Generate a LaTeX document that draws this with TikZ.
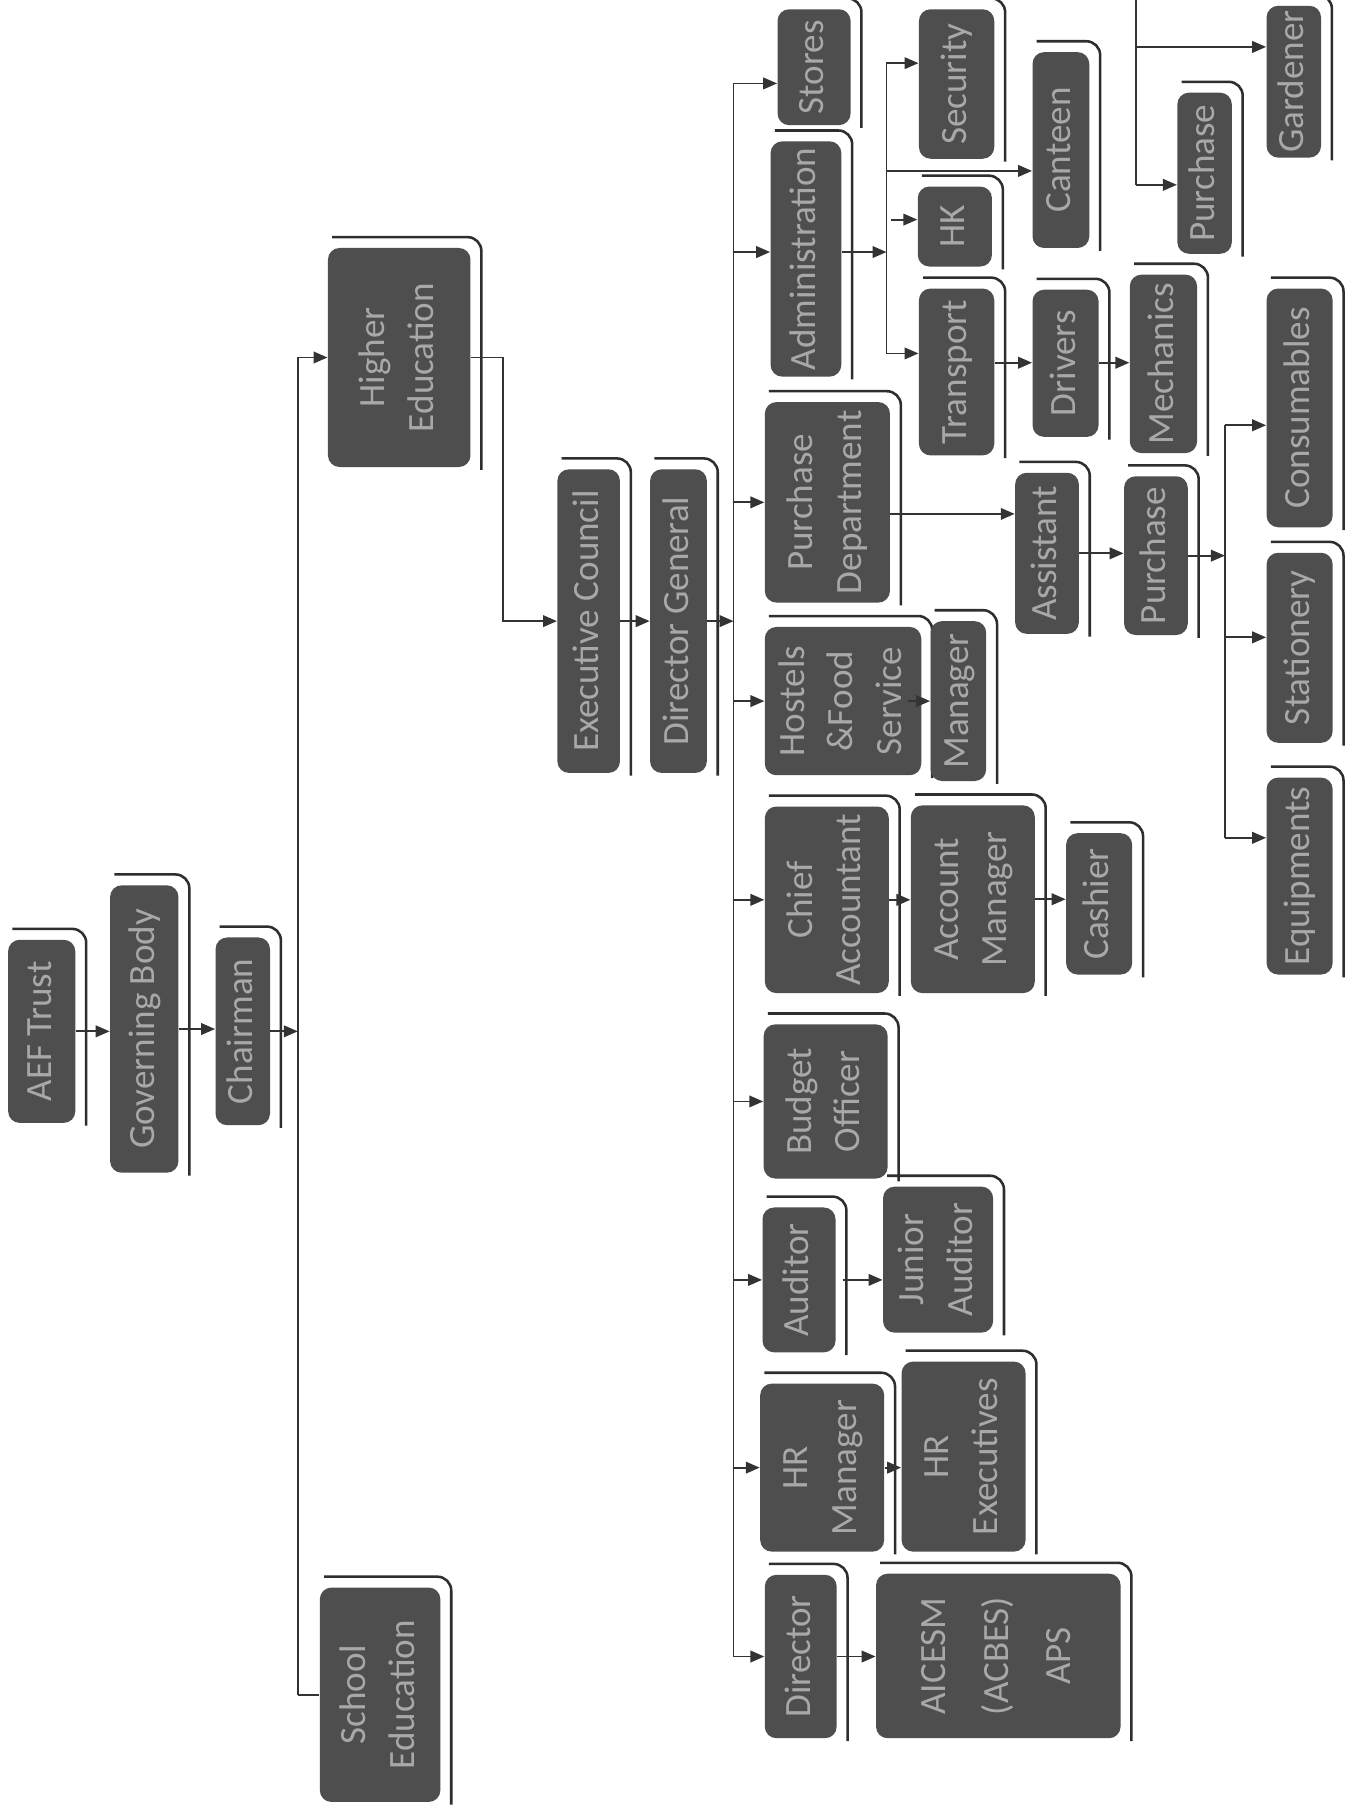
\documentclass[tikz,border=0pt]{standalone}
\usepackage{fontspec}
\setmainfont{Carlito}
\usetikzlibrary{arrows.meta}
\definecolor{boxfill}{HTML}{4E4E4E}
\definecolor{boxtext}{HTML}{A8A8A8}
\definecolor{linecol}{HTML}{333333}
\definecolor{framecol}{HTML}{2E2E2E}
\tikzset{
  orgnode/.style={fill=boxfill, rounded corners=5pt, inner sep=0pt, text=boxtext,
    font=\fontsize{16}{21}\selectfont},
  orgframe/.style={draw=framecol, line width=1.1pt, rounded corners=6pt},
  arr/.style={draw=linecol, line width=0.8pt, -{Triangle[length=6pt,width=5pt]}},
  ln/.style={draw=linecol, line width=0.8pt}
}
\newcommand\orgbox[6]{%
  \pgfmathsetmacro\obw{(#4-#2)*0.5}%
  \pgfmathsetmacro\obh{(#5-#3)*0.5}%
  \node[orgnode, minimum width=\obw pt, minimum height=\obh pt] (#1) at ({(#2+#4)/2},{(#3+#5)/2})
    {\rotatebox{90}{\begin{tabular}{@{}c@{}}#6\end{tabular}}};%
  \draw[orgframe] ([shift={(2pt,4.5pt)}]#1.north west) -| ([shift={(4.5pt,-1pt)}]#1.south east);%
}
\begin{document}
\begin{tikzpicture}[x=0.5pt,y=-0.5pt]
\fill[white] (0,0) rectangle (1172,1568);
\useasboundingbox (0,0) rectangle (1172,1568);

% boxes
\orgbox{aef}{7}{811}{65}{969}{AEF Trust}
\orgbox{gov}{95}{764}{154}{1012}{Governing Body}
\orgbox{chair}{186}{809}{233}{971}{Chairman}
\orgbox{higher}{283}{214}{406}{403}{Higher\\Education}
\orgbox{school}{276}{1370}{380}{1555}{School\\Education}
\orgbox{exec}{481}{405}{535}{667}{Executive Council}
\orgbox{dg}{561}{405}{610}{667}{Director General}
\orgbox{stores}{671}{8}{734}{108}{Stores}
\orgbox{admin}{665}{122}{726}{325}{Administration}
\orgbox{security}{793}{8}{858}{137}{Security}
\orgbox{hk}{792}{161}{856}{230}{HK}
\orgbox{canteen}{891}{45}{940}{214}{Canteen}
\orgbox{transport}{793}{249}{858}{393}{Transport}
\orgbox{drivers}{891}{250}{948}{377}{Drivers}
\orgbox{mech}{975}{237}{1033}{391}{Mechanics}
\orgbox{purchA}{1016}{80}{1063}{219}{Purchase}
\orgbox{gardener}{1093}{5}{1140}{136}{Gardener}
\orgbox{pdept}{660}{347}{768}{520}{Purchase\\Department}
\orgbox{asst}{876}{408}{931}{547}{Assistant}
\orgbox{purchB}{970}{411}{1025}{548}{Purchase}
\orgbox{cons}{1093}{249}{1150}{455}{Consumables}
\orgbox{stat}{1093}{477}{1150}{641}{Stationery}
\orgbox{equip}{1093}{671}{1150}{841}{Equipments}
\orgbox{hostels}{660}{541}{795}{669}{Hostels\\\&Food\\Service}
\orgbox{mgr}{803}{536}{851}{674}{Manager}
\orgbox{chief}{660}{696}{767}{857}{Chief\\Accountant}
\orgbox{accmgr}{786}{695}{893}{857}{Account\\Manager}
\orgbox{cashier}{920}{719}{977}{841}{Cashier}
\orgbox{budget}{659}{884}{766}{1017}{Budget\\Officer}
\orgbox{auditor}{658}{1042}{721}{1167}{Auditor}
\orgbox{jaud}{762}{1024}{857}{1150}{Junior\\Auditor}
\orgbox{hrm}{656}{1194}{763}{1339}{HR\\Manager}
\orgbox{hre}{778}{1175}{885}{1339}{HR\\Executives}
\orgbox{director}{660}{1359}{722}{1500}{Director}
\orgbox{aicesm}{756}{1358}{967}{1500}{AICESM\\[6pt](ACBES)\\[6pt]APS}

% bus coordinates
\coordinate (b1) at (257,0);
\coordinate (hx) at (434,0);
\coordinate (b2) at (633,0);
\coordinate (b3) at (765,0);
\coordinate (b4) at (1057,0);
\coordinate (b5top) at (980,0);

% top chain
\draw[arr] (aef.east) -- (aef.east -| gov.west);
\draw[arr] (gov.east) -- (gov.east -| chair.west);
\draw[arr] (chair.east) -- (chair.east -| b1);
\draw[ln] (b1 |- higher.west) -- (b1 |- school.west);
\draw[arr] (b1 |- higher.west) -- (higher.west);
\draw[ln] (b1 |- school.west) -- (school.west);
\draw[arr] (higher.east) -- (higher.east -| hx) |- (exec.west);
\draw[arr] (exec.east) -- (exec.east -| dg.west);
\draw[arr] (dg.east) -- (dg.east -| b2);

% main bus
\coordinate (stin) at ([yshift=-7pt]stores.west);
\coordinate (adin) at ([yshift=3pt]admin.west);
\draw[ln] (b2 |- stin) -- (b2 |- director.west);
\draw[arr] (b2 |- stin) -- (stin);
\draw[arr] (b2 |- adin) -- (adin);
\draw[arr] (b2 |- pdept.west) -- (pdept.west);
\draw[arr] (b2 |- hostels.west) -- (hostels.west);
\draw[arr] (b2 |- chief.west) -- (chief.west);
\draw[arr] (b2 |- budget.west) -- (budget.west);
\draw[arr] (b2 |- auditor.west) -- (auditor.west);
\draw[arr] (b2 |- hrm.west) -- (hrm.west);
\draw[arr] (b2 |- director.west) -- (director.west);

% administration branch
\coordinate (adout) at ([yshift=3pt]admin.east);
\draw[arr] (adout) -- (adout -| b3);
\coordinate (secin) at ([yshift=9pt]security.west);
\coordinate (canin) at ([yshift=-9pt]canteen.west);
\coordinate (hkin) at ([yshift=3pt]hk.west);
\coordinate (trin) at ([yshift=8pt]transport.west);
\draw[ln] (b3 |- secin) -- (b3 |- trin);
\draw[arr] (b3 |- secin) -- (secin);
\draw[arr] (b3 |- canin) -- (canin);
\draw[arr] ([xshift=2pt]b3 |- hkin) -- (hkin);
\draw[arr] (b3 |- trin) -- (trin);
\coordinate (trd) at ([yshift=4pt]transport.east);
\draw[arr] (trd) -- (trd -| drivers.west);
\draw[arr] (drivers.east |- trd) -- (trd -| mech.west);

% top right branch
\coordinate (pAin) at ([yshift=-5pt]purchA.west);
\coordinate (gin) at ([yshift=15pt]gardener.west);
\draw[ln] (b5top) -- (b5top |- pAin);
\draw[arr] (b5top |- pAin) -- (pAin);
\draw[arr] (b5top |- gin) -- (gin);

% purchase department branch
\coordinate (pdo) at ([yshift=-5pt]pdept.east);
\draw[arr] (pdo) -- (pdo -| asst.west);
\draw[arr] (asst.east) -- (asst.east -| purchB.west);
\draw[arr] (purchB.east) -- (purchB.east -| b4);
\coordinate (consin) at ([yshift=-7.5pt]cons.west);
\coordinate (statin) at ([yshift=4.5pt]stat.west);
\coordinate (eqin) at ([yshift=16.5pt]equip.west);
\draw[ln] (b4 |- consin) -- (b4 |- eqin);
\draw[arr] (b4 |- consin) -- (consin);
\draw[arr] (b4 |- statin) -- (statin);
\draw[arr] (b4 |- eqin) -- (eqin);

% other branches
\draw[arr] ([xshift=-6pt]hostels.east) -- (hostels.east -| mgr.west);
\draw[arr] (chief.east) -- (chief.east -| accmgr.west);
\draw[arr] (accmgr.east) -- (accmgr.east -| cashier.west);
\draw[arr] ([xshift=3pt]auditor.east) -- (auditor.east -| jaud.west);
\draw[arr] (hrm.east) -- (hrm.east -| hre.west);
\draw[arr] (director.east) -- (director.east -| aicesm.west);
\end{tikzpicture}
\end{document}
